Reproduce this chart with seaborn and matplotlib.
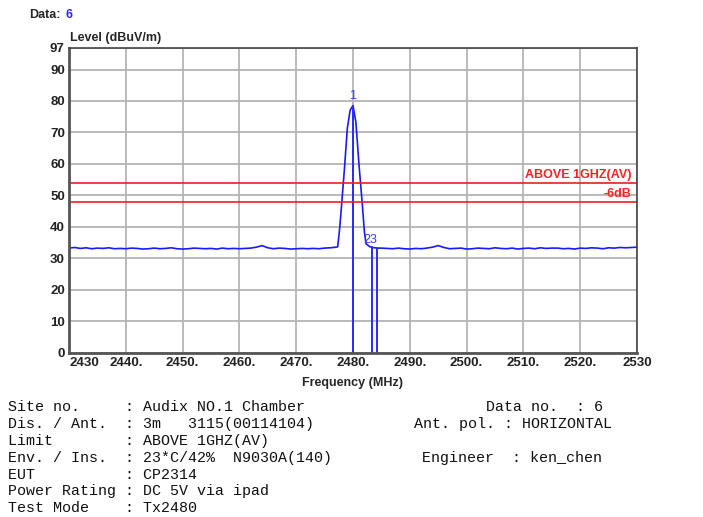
import numpy as np
import pandas as pd
import seaborn as sns
import matplotlib.pyplot as plt

# sweep below the carrier, 1 MHz steps from 2430
noise_left_freq = np.arange(2430, 2477)
noise_left = [33.2, 33.4, 33.1, 33.3, 33.0, 33.2, 33.1, 33.3, 33.0, 33.1,
              33.0, 33.2, 33.1, 32.9, 33.0, 33.2, 33.0, 33.1, 33.3, 33.0,
              32.9, 33.0, 33.2, 33.1, 33.0, 33.1, 32.9, 33.2, 33.0, 33.1,
              33.0, 33.1, 33.2, 33.5, 34.0, 33.3, 33.0, 33.2, 33.1, 32.9,
              33.0, 33.1, 33.0, 33.1, 33.0, 33.2, 33.3]

# carrier
peak_freq = [2477.0, 2477.3, 2477.6, 2477.9, 2478.5, 2479.0, 2479.5, 2480.0,
             2480.5, 2481.1, 2481.6, 2482.0, 2482.3, 2482.9, 2483.4, 2484.3]
peak_level = [33.5, 33.6, 38.5, 44.8, 58.6, 71.3, 77.1, 78.5,
              73.4, 58.7, 48.0, 38.5, 34.6, 33.7, 33.4, 33.2]

# sweep above the carrier, 1 MHz steps up to 2530
noise_right_freq = np.arange(2485, 2531)
noise_right = [33.2, 33.1, 33.0, 33.2, 33.0, 32.9, 33.1, 33.0, 33.2, 33.5,
               34.0, 33.4, 33.0, 33.1, 33.2, 32.9,
               33.0, 33.2, 33.1, 33.0, 33.3, 33.1, 33.0, 33.2, 32.9, 33.1,
               33.2, 33.0, 33.3, 33.1, 33.2, 33.2, 33.0, 33.1, 32.9, 33.2,
               33.1, 33.3, 33.2, 33.0, 33.3, 33.2, 33.4, 33.3, 33.4, 33.5]

marker_freq = [2480.0, 2483.4, 2484.3]
marker_level = [78.5, 33.4, 33.2]

limit_av = 54
limit_6db = 48

x_ticks = [2430, 2440, 2450, 2460, 2470, 2480, 2490, 2500, 2510, 2520, 2530]
x_labels = ["2430", "2440.", "2450.", "2460.", "2470.", "2480.", "2490.",
            "2500.", "2510.", "2520.", "2530"]
y_ticks = [0, 10, 20, 30, 40, 50, 60, 70, 80, 90, 97]

info_left = [
    "Site no.     : Audix NO.1 Chamber",
    "Dis. / Ant.  : 3m   3115(00114104)",
    "Limit        : ABOVE 1GHZ(AV)",
    "Env. / Ins.  : 23*C/42%  N9030A(140)",
    "EUT          : CP2314",
    "Power Rating : DC 5V via ipad",
    "Test Mode    : Tx2480",
]

trace = pd.DataFrame({
    "freq": np.concatenate([noise_left_freq, peak_freq, noise_right_freq]),
    "level": np.concatenate([noise_left, peak_level, noise_right]),
})

sns.set_style("white")
plt.rcParams["font.family"] = ["Liberation Sans", "DejaVu Sans"]

W, H = 703, 517
fig = plt.figure(figsize=(W / 100, H / 100), dpi=100)
ax = fig.add_axes([69 / W, (H - 352.5) / H, (637 - 69) / W, (352.5 - 47.5) / H])

sns.lineplot(data=trace, x="freq", y="level", ax=ax, color="#1a1aff",
             linewidth=1.2, sort=False, estimator=None)

for f, lv in zip(marker_freq, marker_level):
    ax.plot([f, f], [0, lv], color="#2a2aff", linewidth=1.4)
ax.text(marker_freq[0], marker_level[0] + 1.2, "1", color="#3a3aff",
        ha="center", va="bottom", fontsize=9)
ax.text(marker_freq[1] - 0.4, marker_level[1] + 0.5, "23", color="#3a3aff",
        ha="center", va="bottom", fontsize=9)

ax.axhline(limit_av, color="#e82020", linewidth=1.2)
ax.axhline(limit_6db, color="#e82020", linewidth=1.2)
ax.text(2529, limit_av + 0.6, "ABOVE 1GHZ(AV)", color="#ff2020",
        ha="right", va="bottom", fontsize=9, fontweight="bold")
ax.text(2529, limit_6db + 0.6, "-6dB", color="#ff2020",
        ha="right", va="bottom", fontsize=9, fontweight="bold")

ax.set_xlim(2430, 2530)
ax.set_ylim(0, 97)
ax.set_xticks(x_ticks)
ax.set_xticklabels(x_labels, fontsize=9.5, fontweight="bold", color="#222222")
ax.get_xticklabels()[0].set_horizontalalignment("left")
ax.set_yticks(y_ticks)
ax.set_yticklabels([str(v) for v in y_ticks], fontsize=9.5, fontweight="bold",
                   color="#222222")
ax.tick_params(length=0, pad=3)
ax.grid(True, color="#b4b4b4", linewidth=1.3)
ax.set_axisbelow(True)
for side in ["left", "bottom"]:
    ax.spines[side].set_color("#555555")
    ax.spines[side].set_linewidth(2)
for side in ["top", "right"]:
    ax.spines[side].set_color("#444444")
    ax.spines[side].set_linewidth(1.2)

ax.set_xlabel("Frequency (MHz)", fontsize=9, fontweight="bold", labelpad=6)
ax.set_ylabel("")
fig.text(70 / W, 1 - 38 / H, "Level (dBuV/m)", fontsize=9, fontweight="bold",
         va="center")
fig.text(29 / W, 1 - 15 / H, "Data:", fontsize=9, fontweight="bold",
         va="center")
fig.text(66 / W, 1 - 15 / H, "6", fontsize=9, fontweight="bold",
         color="#2a2aff", va="center")

mono = ["Liberation Mono", "DejaVu Sans Mono"]
fs = 10.8
for i, line in enumerate(info_left):
    fig.text(8 / W, 1 - (407 + i * 16.9) / H, line, fontsize=fs,
             family=mono, va="center", color="#111111")
fig.text(486 / W, 1 - 407 / H, "Data no.  : 6", fontsize=fs, family=mono,
         va="center", color="#111111")
fig.text(414 / W, 1 - 424 / H, "Ant. pol. : HORIZONTAL", fontsize=fs,
         family=mono, va="center", color="#111111")
fig.text(422 / W, 1 - 458 / H, "Engineer  : ken_chen", fontsize=fs,
         family=mono, va="center", color="#111111")

fig.savefig("out.png", dpi=100)
